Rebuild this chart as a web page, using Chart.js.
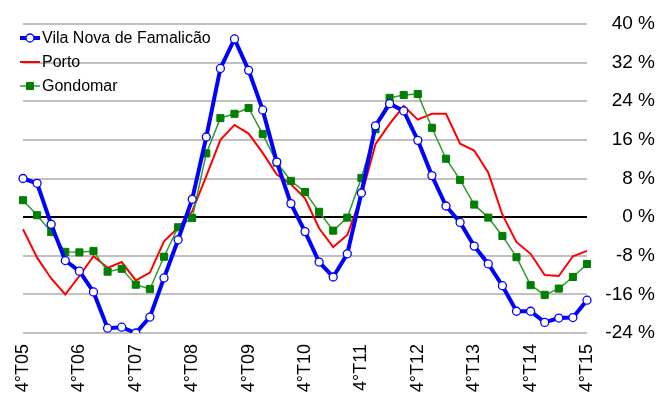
<!doctype html>
<html>
<head>
  <meta charset="utf-8">
  <title>Variação homóloga</title>
  <script src="https://cdn.jsdelivr.net/npm/chart.js@4.4.1/dist/chart.umd.min.js"></script>
  <style>
    body { margin: 0; background: #fff; }
    #chart { display: block; }
  </style>
</head>
<body>
  <canvas id="chart" width="668" height="396"></canvas>

  <script>
    // quarters 4ºT05 .. 4ºT15
    var quarters = [
      '4°T05', '1°T06', '2°T06', '3°T06', '4°T06', '1°T07', '2°T07', '3°T07', '4°T07',
      '1°T08', '2°T08', '3°T08', '4°T08', '1°T09', '2°T09', '3°T09', '4°T09',
      '1°T10', '2°T10', '3°T10', '4°T10', '1°T11', '2°T11', '3°T11', '4°T11',
      '1°T12', '2°T12', '3°T12', '4°T12', '1°T13', '2°T13', '3°T13', '4°T13',
      '1°T14', '2°T14', '3°T14', '4°T14', '1°T15', '2°T15', '3°T15', '4°T15'
    ];

    var famalicao = [8.0, 7.0, -1.5, -9.0, -11.2, -15.5, -23.0, -22.8, -24.0, -20.7,
      -12.6, -4.7, 3.7, 16.6, 30.8, 36.9, 30.4, 22.2, 11.4, 2.8,
      -3.0, -9.3, -12.4, -7.6, 5.0, 18.9, 23.5, 22.0, 15.9, 8.6,
      2.3, -1.1, -6.0, -9.7, -14.2, -19.5, -19.5, -21.8, -20.9, -20.8, -17.2];

    var porto = [-2.5, -8.4, -12.7, -16.0, -12.2, -8.1, -10.5, -9.3, -13.1, -11.5,
      -5.0, -2.2, 1.2, 8.5, 16.0, 19.1, 17.3, 13.3, 8.8, 6.8,
      3.9, -2.3, -6.2, -3.7, 4.4, 15.1, 19.3, 23.0, 20.2, 21.4,
      21.4, 15.2, 13.8, 9.2, 0.5, -5.2, -7.6, -12.0, -12.2, -8.1, -7.0];

    var gondomar = [3.5, 0.4, -3.1, -7.2, -7.3, -7.0, -11.3, -10.7, -14.0, -14.9,
      -8.2, -2.1, -0.2, 13.2, 20.5, 21.4, 22.6, 17.2, 11.3, 7.5,
      5.2, 1.1, -2.8, -0.1, 8.1, 18.2, 24.7, 25.3, 25.5, 18.5,
      12.1, 7.7, 2.6, -0.1, -3.9, -8.3, -14.1, -16.1, -14.8, -12.4, -9.7];

    var yMin = -24, yMax = 40, yStep = 8;

    var FONT = "'Liberation Sans', Arial, sans-serif";

    // legend drawn inside the plot, top left
    var innerLegend = {
      id: 'innerLegend',
      afterDatasetsDraw: function(chart) {
        var ctx = chart.ctx;
        var rows = [38, 62, 86];
        ctx.save();
        ctx.font = '16px ' + FONT;
        ctx.textBaseline = 'middle';
        ctx.textAlign = 'left';
        chart.data.datasets.forEach(function(ds, i) {
          var y = rows[i];
          ctx.strokeStyle = ds.borderColor;
          ctx.lineWidth = ds.borderWidth;
          ctx.beginPath();
          ctx.moveTo(20, y);
          ctx.lineTo(40, y);
          ctx.stroke();
          if (ds.pointRadius > 0) {
            ctx.fillStyle = ds.pointBackgroundColor;
            ctx.strokeStyle = ds.pointBorderColor;
            ctx.lineWidth = ds.pointBorderWidth;
            ctx.beginPath();
            if (ds.pointStyle === 'circle') {
              ctx.arc(30, y, ds.pointRadius, 0, Math.PI * 2);
            } else {
              var s = ds.pointRadius * Math.SQRT1_2;
              ctx.rect(30 - s, y - s, 2 * s, 2 * s);
            }
            ctx.fill();
            ctx.stroke();
          }
          ctx.fillStyle = '#000';
          ctx.fillText(ds.label, 42, y + 1);
        });
        ctx.restore();
      }
    };

    new Chart(document.getElementById('chart'), {
      type: 'line',
      data: {
        labels: quarters,
        datasets: [{
          label: 'Vila Nova de Famalicão',
          data: famalicao,
          borderColor: '#0000ff',
          borderWidth: 4,
          pointStyle: 'circle',
          pointRadius: 4,
          pointBackgroundColor: '#ffffff',
          pointBorderColor: '#0000ff',
          pointBorderWidth: 1.3,
          tension: 0,
          order: 1
        }, {
          label: 'Porto',
          data: porto,
          borderColor: '#ff0000',
          borderWidth: 2,
          pointRadius: 0,
          tension: 0,
          order: 3
        }, {
          label: 'Gondomar',
          data: gondomar,
          borderColor: '#2e9a2e',
          borderWidth: 1.5,
          pointStyle: 'rect',
          pointRadius: 5,
          pointBackgroundColor: '#007f00',
          pointBorderColor: '#007f00',
          pointBorderWidth: 1,
          tension: 0,
          order: 2
        }]
      },
      options: {
        responsive: false,
        animation: false,
        layout: { padding: { left: 23, top: 24, right: 13, bottom: 0 } },
        plugins: {
          legend: { display: false },
          tooltip: { enabled: false }
        },
        scales: {
          x: {
            offset: false,
            grid: { display: false, drawTicks: false },
            border: { display: false },
            ticks: {
              autoSkip: false,
              minRotation: 90,
              maxRotation: 90,
              padding: 11,
              color: '#000',
              font: { family: FONT, size: 18 },
              callback: function(v, i) { return i % 4 === 0 ? quarters[i] : ''; }
            },
            afterFit: function(scale) { scale.height = 63; }
          },
          y: {
            position: 'right',
            min: yMin,
            max: yMax,
            grid: {
              drawTicks: false,
              lineWidth: 2,
              color: function(c) { return c.tick && c.tick.value === 0 ? '#000000' : '#c0c0c0'; }
            },
            border: { display: false },
            ticks: {
              stepSize: yStep,
              crossAlign: 'far',
              padding: 0,
              color: '#000',
              font: { family: FONT, size: 19 },
              callback: function(v) { return v + ' %'; }
            },
            afterFit: function(scale) { scale.width = 68; }
          }
        }
      },
      plugins: [innerLegend]
    });
  </script>
</body>
</html>
